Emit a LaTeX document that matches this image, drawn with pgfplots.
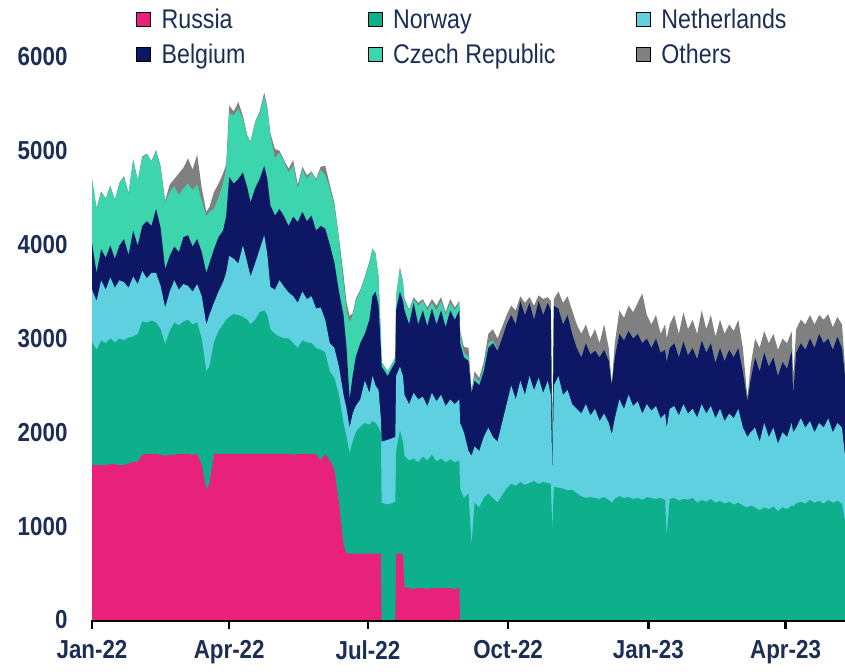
\documentclass[border=0pt]{standalone}
\usepackage{fontspec}
\setmainfont{Liberation Sans}[FakeStretch=0.86]
\usepackage{pgfplots}
\usepackage{pgfplotstable}
\pgfplotsset{compat=1.18}
\definecolor{cRus}{HTML}{E8217A}
\definecolor{cNor}{HTML}{0DB08B}
\definecolor{cNed}{HTML}{5FD0E0}
\definecolor{cBel}{HTML}{0D1763}
\definecolor{cCze}{HTML}{3DD5AE}
\definecolor{cOth}{HTML}{808080}
\definecolor{txt}{HTML}{1C2E55}
% cumulative tops of the stacked areas (day 0 = 1 Jan 2022)
\pgfplotstableread{
day R N NL B CZ O
0 1650 2960 3520 4020 4700 4700
3 1650 2880 3400 3700 4380 4390
6 1650 2980 3620 3950 4560 4570
9 1650 2950 3520 3860 4480 4490
12 1660 3000 3650 3990 4620 4630
15 1660 2960 3540 3850 4470 4480
18 1650 3000 3620 3990 4650 4660
21 1650 2980 3600 4060 4720 4730
24 1670 3010 3540 3890 4540 4550
27 1680 3020 3660 4150 4900 4910
30 1690 3050 3580 3990 4680 4690
33 1760 3180 3720 4200 4930 4940
36 1770 3170 3640 4250 4960 4970
39 1770 3190 3700 4200 4880 4890
42 1770 3170 3700 4380 5000 5010
45 1760 3100 3560 4180 4820 4840
48 1750 2940 3330 3740 4450 4470
51 1760 3080 3500 3880 4560 4640
54 1760 3170 3620 3980 4620 4700
57 1770 3140 3520 3920 4530 4760
60 1770 3180 3580 4080 4600 4820
63 1770 3200 3560 4100 4650 4920
66 1760 3150 3500 3980 4580 4800
69 1770 3170 3580 4060 4640 4960
72 1650 3000 3450 3920 4470 4600
75 1390 2650 3150 3700 4300 4350
77 1450 2700 3250 3800 4350 4400
80 1770 2960 3380 3950 4380 4560
83 1770 3080 3500 4080 4500 4650
86 1770 3150 3600 4150 4650 4760
88 1770 3200 3700 4300 4800 4850
90 1770 3230 3880 4720 5400 5480
93 1770 3260 3850 4650 5380 5420
96 1770 3250 3800 4700 5450 5520
99 1770 3230 3990 4770 5340 5370
102 1770 3200 3800 4600 5150 5160
104 1770 3150 3660 4450 5090 5100
107 1770 3200 3800 4600 5300 5310
110 1770 3280 3950 4700 5400 5420
113 1770 3300 4100 4840 5580 5620
115 1770 3250 3900 4700 5450 5470
117 1770 3100 3550 4420 5170 5190
120 1770 3050 3520 4310 4920 5020
123 1770 3020 3620 4380 4980 5000
126 1770 3000 3550 4300 4880 4900
129 1770 3000 3490 4200 4770 4810
132 1760 2950 3450 4300 4850 4900
135 1770 2900 3380 4240 4600 4640
138 1770 2980 3500 4350 4800 4830
141 1770 2960 3420 4250 4700 4740
144 1770 2950 3450 4310 4770 4780
147 1770 2900 3320 4150 4680 4700
150 1700 2880 3330 4200 4800 4830
153 1770 2850 3200 4170 4740 4840
156 1700 2650 2950 4000 4600 4640
159 1600 2580 2900 3810 4420 4450
162 1250 2400 2700 3500 4050 4080
165 800 2100 2400 3250 3600 3680
167 707 1950 2250 2900 3300 3380
169 707 1780 2050 2350 3170 3240
171 707 1900 2200 2600 3250 3270
173 707 2000 2280 2800 3400 3420
176 707 2060 2350 2950 3500 3520
179 707 2100 2550 3050 3650 3660
182 707 2080 2420 3200 3800 3820
184 707 2120 2600 3450 3950 3960
186 707 2100 2500 3500 3900 3910
188 707 2050 2450 3350 3650 3660
189.5 707 2000 2150 2900 3050 3050
190 0 1250 1900 2700 2750 2750
194 0 1230 1920 2600 2650 2650
199 0 1260 1950 2750 2800 2800
199.5 707 1800 2600 3300 3450 3450
202 707 2020 2700 3500 3750 3760
204 707 1900 2600 3400 3600 3610
205 350 1750 2400 3300 3420 3430
208 340 1700 2300 3150 3300 3310
211 330 1720 2420 3380 3420 3440
214 340 1680 2350 3150 3350 3380
217 340 1740 2380 3300 3400 3420
220 330 1700 2280 3130 3300 3330
223 340 1760 2420 3320 3380 3420
226 340 1690 2330 3150 3300 3350
229 340 1720 2400 3300 3400 3440
232 340 1680 2280 3120 3250 3280
235 340 1710 2350 3300 3380 3420
238 330 1680 2300 3200 3300 3330
241 340 1700 2350 3300 3380 3400
241.5 0 1400 2100 2950 3050 3080
244 0 1300 2000 2800 2850 2910
247 0 1350 1800 2760 2800 2900
249 0 800 1750 2420 2430 2450
251 0 1250 1850 2550 2600 2650
254 0 1200 1800 2500 2540 2580
257 0 1300 1950 2650 2700 2750
260 0 1350 2050 2900 2950 3050
263 0 1300 1950 2950 2980 3100
266 0 1250 1900 2870 2880 3000
269 0 1330 2100 3000 3000 3120
272 0 1400 2300 3150 3150 3250
275 0 1450 2500 3250 3250 3350
278 0 1430 2350 3150 3150 3300
281 0 1470 2550 3400 3400 3450
284 0 1440 2400 3250 3250 3380
287 0 1460 2600 3380 3380 3440
290 0 1480 2450 3200 3200 3350
293 0 1450 2580 3400 3400 3460
296 0 1470 2420 3250 3250 3420
299 0 1460 2550 3380 3380 3440
301 0 1450 2400 3300 3300 3400
302 0 950 1550 1550 1550 2000
303 0 1420 2500 3350 3350 3420
306 0 1410 2600 3320 3320 3500
309 0 1400 2400 3150 3150 3380
312 0 1380 2450 3250 3250 3450
315 0 1390 2300 3050 3050 3300
318 0 1350 2250 2900 2900 3150
321 0 1320 2200 2800 2800 3050
324 0 1300 2300 2950 2950 3150
327 0 1310 2180 2830 2830 3000
330 0 1300 2250 2870 2870 3100
333 0 1290 2120 2800 2800 2950
336 0 1310 2200 2880 2880 3150
339 0 1280 2100 2760 2760 2900
341 0 1250 1980 2500 2500 2520
343 0 1290 2150 2800 2800 2950
346 0 1320 2350 3050 3050 3300
349 0 1300 2250 2980 2980 3220
352 0 1310 2400 3080 3080 3350
355 0 1290 2280 3000 3000 3280
358 0 1300 2330 3050 3050 3380
361 0 1280 2200 2950 2950 3480
364 0 1310 2300 3000 3000 3250
367 0 1300 2230 2900 2900 3150
370 0 1290 2280 3000 3000 3250
373 0 1300 2150 2850 2850 3050
376 0 1280 2200 2880 2880 3150
377 0 900 2050 2750 2750 3000
379 0 1290 2250 2900 2900 3150
382 0 1300 2280 2950 2950 3250
385 0 1270 2180 2800 2800 3050
388 0 1290 2300 2970 2970 3280
391 0 1280 2200 2820 2820 3100
394 0 1300 2250 2900 2900 3200
397 0 1250 2160 2780 2780 3050
400 0 1280 2300 2980 2980 3300
403 0 1260 2200 2850 2850 3100
406 0 1290 2280 2950 2950 3250
409 0 1250 2150 2740 2740 3020
412 0 1270 2250 2900 2900 3200
415 0 1240 2120 2760 2760 3050
418 0 1260 2200 2880 2880 3150
421 0 1230 2150 2800 2800 3080
424 0 1250 2250 2900 2900 3200
427 0 1220 2050 2650 2650 2900
430 0 1200 1950 2330 2330 2370
432 0 1220 2000 2550 2550 2700
435 0 1200 2050 2800 2800 3000
438 0 1170 1900 2650 2650 2900
441 0 1200 2100 2850 2850 3080
444 0 1180 1950 2700 2700 2950
447 0 1210 2050 2800 2800 3050
450 0 1160 1880 2600 2600 2880
453 0 1200 2000 2750 2750 3000
456 0 1180 1950 2680 2680 2950
459 0 1220 2100 2870 2870 3080
460 0 1210 2000 2400 2400 2600
462 0 1240 2050 2850 2850 3100
465 0 1260 2150 2950 2950 3200
468 0 1240 2050 2880 2880 3150
471 0 1280 2120 3000 3000 3250
474 0 1250 2000 2900 2900 3150
477 0 1270 2100 3050 3050 3250
480 0 1240 2050 2950 2950 3200
483 0 1280 2150 3000 3000 3260
486 0 1250 2000 2880 2880 3120
489 0 1270 2100 3020 3020 3230
492 0 1240 2050 2900 2900 3150
494 0 1050 1750 2600 2600 2700
}\gasdata

\begin{document}
\begin{tikzpicture}
\useasboundingbox (0,0) rectangle (845bp,672bp);
\begin{axis}[
  at={(92bp,52bp)}, anchor=south west,
  width=753bp, height=563bp, scale only axis,
  xmin=0, xmax=494, ymin=0, ymax=6000,
  axis x line*=bottom, axis y line*=left,
  x axis line style={line width=3.2bp, black, -},
  y axis line style={draw=none},
  xtick={0,90,181,273,365,455},
  xticklabels={Jan-22,Apr-22,Jul-22,Oct-22,Jan-23,Apr-23},
  ytick={0,1000,2000,3000,4000,5000,6000},
  ytick style={draw=none},
  xtick style={line width=2.6bp, black},
  tick align=outside,
  major tick length=9bp,
  ticklabel style={font=\fontsize{26bp}{28bp}\selectfont\bfseries, text=txt},
  /pgf/number format/assume math mode=true,
  /pgf/number format/1000 sep={},
  yticklabel style={xshift=-12bp},
  xticklabel style={yshift=-8bp},
  legend columns=3,
  legend cell align=left,
  legend style={draw=none, fill=none, at={(axis description cs:0.0545,1.089)}, anchor=north west,
    font=\fontsize{27bp}{29bp}\selectfont, text=txt, nodes={inner sep=0pt}, column sep=0pt, row sep=14bp},
  legend image code/.code={\fill[#1] (0bp,-7bp) rectangle (14bp,7bp);},
]
\addlegendimage{fill=cRus}
\addlegendentry{\hspace{11bp}\makebox[206bp][l]{Russia}}
\addlegendimage{fill=cNor}
\addlegendentry{\hspace{11bp}\makebox[243bp][l]{Norway}}
\addlegendimage{fill=cNed}
\addlegendentry{\hspace{11bp}Netherlands}
\addlegendimage{fill=cBel}
\addlegendentry{\hspace{11bp}\makebox[206bp][l]{Belgium}}
\addlegendimage{fill=cCze}
\addlegendentry{\hspace{11bp}\makebox[243bp][l]{Czech Republic}}
\addlegendimage{fill=cOth}
\addlegendentry{\hspace{11bp}Others}

\addplot[forget plot, draw=none, fill=cOth] table[x=day, y=O] {\gasdata} \closedcycle;
\addplot[forget plot, draw=none, fill=cCze] table[x=day, y=CZ] {\gasdata} \closedcycle;
\addplot[forget plot, draw=none, fill=cBel] table[x=day, y=B] {\gasdata} \closedcycle;
\addplot[forget plot, draw=none, fill=cNed] table[x=day, y=NL] {\gasdata} \closedcycle;
\addplot[forget plot, draw=none, fill=cNor] table[x=day, y=N] {\gasdata} \closedcycle;
\addplot[forget plot, draw=none, fill=cRus] table[x=day, y=R] {\gasdata} \closedcycle;
\end{axis}
\end{tikzpicture}
\end{document}
